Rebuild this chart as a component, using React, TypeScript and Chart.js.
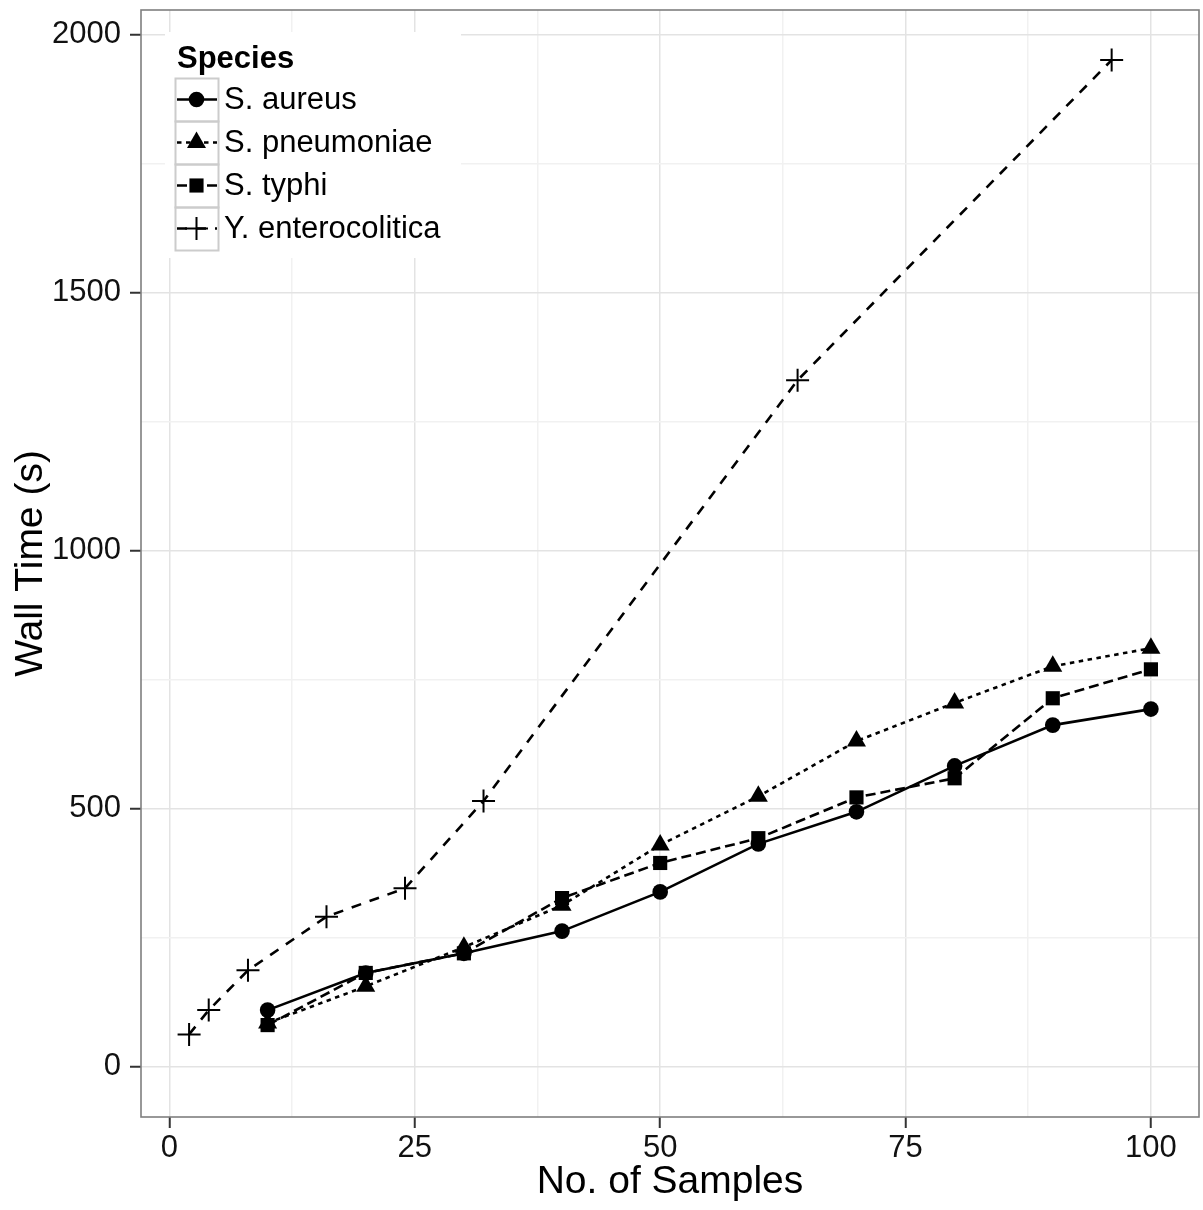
import { useEffect, useRef } from "react";
import { Chart, registerables } from "chart.js";

Chart.register(...registerables);

// ---- data ----
const seriesNames = ["S. aureus", "S. pneumoniae", "S. typhi", "Y. enterocolitica"];
const staphSamples = [10, 20, 30, 40, 50, 60, 70, 80, 90, 100];
const aureusTimes = [110, 182, 220, 263, 339, 432, 494, 583, 662, 693];
const pneumoniaeTimes = [85, 156, 232, 313, 430, 524, 631, 705, 776, 811];
const typhiTimes = [81, 182, 220, 327, 395, 443, 522, 559, 714, 770];
const yersiniaSamples = [2, 4, 8, 16, 24, 32, 64, 96];
const yersiniaTimes = [63, 110, 187, 291, 346, 515, 1330, 1950];

const xTickValues = [0, 12.5, 25, 37.5, 50, 62.5, 75, 87.5, 100];
const xMajorTicks = [0, 25, 50, 75, 100];
const yTickValues = [0, 250, 500, 750, 1000, 1250, 1500, 1750, 2000];
const yMajorTicks = [0, 500, 1000, 1500, 2000];

const xTitle = "No. of Samples";
const yTitle = "Wall Time (s)";
const legendTitle = "Species";

// ---- styles ----
const FONT = '"Liberation Sans", Arial, Helvetica, sans-serif';
const pointStyles = ["circle", "triangle", "rect", "cross"];
const pointRadii = [7.8, 11, 10, 11.5];
const dashes: number[][] = [[], [4.5, 4.5], [10, 5], [10, 9]];

const seriesX = [staphSamples, staphSamples, staphSamples, yersiniaSamples];
const seriesY = [aureusTimes, pneumoniaeTimes, typhiTimes, yersiniaTimes];

const PANEL = { left: 141, top: 10, right: 1199, bottom: 1117 };

function drawMarker(ctx: CanvasRenderingContext2D, style: string, r: number, x: number, y: number) {
  ctx.save();
  ctx.setLineDash([]);
  ctx.fillStyle = "#000";
  ctx.strokeStyle = "#000";
  ctx.beginPath();
  if (style === "circle") {
    ctx.arc(x, y, r, 0, Math.PI * 2);
    ctx.fill();
  } else if (style === "triangle") {
    const w = r * Math.sin(Math.PI / 3);
    ctx.moveTo(x, y - r);
    ctx.lineTo(x + w, y + r / 2);
    ctx.lineTo(x - w, y + r / 2);
    ctx.closePath();
    ctx.fill();
  } else if (style === "rect") {
    const s = r * Math.SQRT1_2;
    ctx.rect(x - s, y - s, 2 * s, 2 * s);
    ctx.fill();
  } else {
    ctx.lineWidth = 2;
    ctx.moveTo(x - r, y);
    ctx.lineTo(x + r, y);
    ctx.moveTo(x, y - r);
    ctx.lineTo(x, y + r);
    ctx.stroke();
  }
  ctx.restore();
}

const overlayPlugin = {
  id: "panelAndLegend",
  afterDraw(chart: any) {
    const ctx: CanvasRenderingContext2D = chart.ctx;
    const a = chart.chartArea;
    ctx.save();
    // panel border
    ctx.strokeStyle = "#7f7f7f";
    ctx.lineWidth = 1.6;
    ctx.strokeRect(a.left, a.top, a.right - a.left, a.bottom - a.top);

    // legend
    ctx.fillStyle = "#fff";
    ctx.fillRect(165, 32, 296, 226);
    ctx.fillStyle = "#000";
    ctx.font = `bold 31px ${FONT}`;
    ctx.textBaseline = "alphabetic";
    ctx.textAlign = "left";
    ctx.fillText(legendTitle, 177, 68);

    const keyLeft = 175;
    const keySize = 43;
    seriesNames.forEach((name, i) => {
      const top = 78 + i * 43;
      const cy = top + keySize / 2;
      const cx = keyLeft + keySize / 2;
      ctx.setLineDash([]);
      ctx.strokeStyle = "#cccccc";
      ctx.lineWidth = 2;
      ctx.strokeRect(keyLeft + 0.5, top + 0.5, keySize, keySize);
      ctx.strokeStyle = "#000";
      ctx.lineWidth = 2.6;
      ctx.setLineDash(dashes[i]);
      ctx.beginPath();
      ctx.moveTo(keyLeft + 2, cy);
      ctx.lineTo(keyLeft + keySize - 1, cy);
      ctx.stroke();
      ctx.setLineDash([]);
      drawMarker(ctx, pointStyles[i], pointRadii[i], cx, cy);
      ctx.fillStyle = "#000";
      ctx.font = `31px ${FONT}`;
      ctx.textBaseline = "middle";
      ctx.fillText(name, 224, cy + 1);
    });
    ctx.restore();
  },
};

// Force the plot panel to the reference's exact position.
const panelPlugin = {
  id: "fixedPanel",
  afterLayout(chart: any) {
    const ca = chart.chartArea;
    ca.left = PANEL.left;
    ca.right = PANEL.right;
    ca.top = PANEL.top;
    ca.bottom = PANEL.bottom;
    ca.width = PANEL.right - PANEL.left;
    ca.height = PANEL.bottom - PANEL.top;
    const x = chart.scales.x;
    const y = chart.scales.y;
    x.left = PANEL.left;
    x.right = PANEL.right;
    x.width = PANEL.right - PANEL.left;
    x.top = PANEL.bottom;
    x.bottom = 1210;
    x.height = 1210 - PANEL.bottom;
    y.left = 0;
    y.right = PANEL.left;
    y.width = PANEL.left;
    y.top = PANEL.top;
    y.bottom = PANEL.bottom;
    y.height = PANEL.bottom - PANEL.top;
    x.configure();
    y.configure();
  },
};

export default function App() {
  const ref = useRef<HTMLCanvasElement | null>(null);

  useEffect(() => {
    document.body.style.margin = "0";
    document.body.style.overflow = "hidden";
    const canvas = ref.current;
    if (!canvas) return;

    const lineSets = seriesNames.map((name, i) => ({
      label: name,
      data: seriesX[i].map((x, j) => ({ x, y: seriesY[i][j] })),
      borderColor: "#000",
      borderWidth: 2.6,
      borderDash: dashes[i],
      pointRadius: 0,
      showLine: true,
      fill: false,
      tension: 0,
      order: 10,
    }));
    const pointSets = seriesNames.map((name, i) => ({
      label: name + " points",
      data: seriesX[i].map((x, j) => ({ x, y: seriesY[i][j] })),
      showLine: false,
      pointStyle: pointStyles[i],
      pointRadius: pointRadii[i],
      pointBackgroundColor: "#000",
      pointBorderColor: "#000",
      pointBorderWidth: pointStyles[i] === "cross" ? 2 : 0,
      order: 1,
    }));

    const isMajorX = (v: number) => xMajorTicks.includes(v);
    const isMajorY = (v: number) => yMajorTicks.includes(v);

    const chart = new Chart(canvas, {
      type: "scatter",
      data: { datasets: [...lineSets, ...pointSets] as any },
      plugins: [panelPlugin, overlayPlugin],
      options: {
        animation: false,
        responsive: false,
        devicePixelRatio: 1,
        layout: { padding: { top: 10, right: 4, left: 0, bottom: 0 } },
        plugins: { legend: { display: false }, tooltip: { enabled: false } },
        scales: {
          x: {
            type: "linear",
            min: -2.9,
            max: 104.9,
            afterBuildTicks: (s: any) => {
              s.ticks = xTickValues.map((v) => ({ value: v }));
            },
            afterFit: (s: any) => {
              s.height = 93;
              s.paddingLeft = 0;
              s.paddingRight = 0;
              s.paddingTop = 0;
              s.paddingBottom = 0;
            },
            border: { display: false },
            grid: {
              color: (c: any) => (isMajorX(c.tick?.value) ? "#e3e3e3" : "#f1f1f1"),
              lineWidth: 1.5,
              tickColor: (c: any) => (isMajorX(c.tick?.value) ? "#333" : "rgba(0,0,0,0)"),
              tickLength: 11,
              tickWidth: 2,
            },
            ticks: {
              autoSkip: false,
              maxRotation: 0,
              padding: 2,
              color: "#111",
              font: { family: FONT, size: 31 },
              callback: (v: any) => (isMajorX(Number(v)) ? String(v) : ""),
            },
            title: {
              display: true,
              text: xTitle,
              color: "#000",
              font: { family: FONT, size: 39 },
              padding: { top: 0, bottom: 4 },
            },
          },
          y: {
            type: "linear",
            min: -97,
            max: 2047,
            afterBuildTicks: (s: any) => {
              s.ticks = yTickValues.map((v) => ({ value: v }));
            },
            afterFit: (s: any) => {
              s.width = 141;
              s.paddingLeft = 0;
              s.paddingRight = 0;
              s.paddingTop = 0;
              s.paddingBottom = 0;
            },
            border: { display: false },
            grid: {
              color: (c: any) => (isMajorY(c.tick?.value) ? "#e3e3e3" : "#f1f1f1"),
              lineWidth: 1.5,
              tickColor: (c: any) => (isMajorY(c.tick?.value) ? "#333" : "rgba(0,0,0,0)"),
              tickLength: 11,
              tickWidth: 2,
            },
            ticks: {
              autoSkip: false,
              padding: 9,
              color: "#111",
              font: { family: FONT, size: 31 },
              callback: (v: any) => (isMajorY(Number(v)) ? String(v) : ""),
            },
            title: {
              display: true,
              text: yTitle,
              color: "#000",
              font: { family: FONT, size: 39 },
              padding: { top: 8, bottom: 0 },
            },
          },
        },
      },
    });
    return () => chart.destroy();
  }, []);

  return (
    <canvas
      ref={ref}
      width={1203}
      height={1210}
      style={{ display: "block", width: 1203, height: 1210 }}
    />
  );
}
